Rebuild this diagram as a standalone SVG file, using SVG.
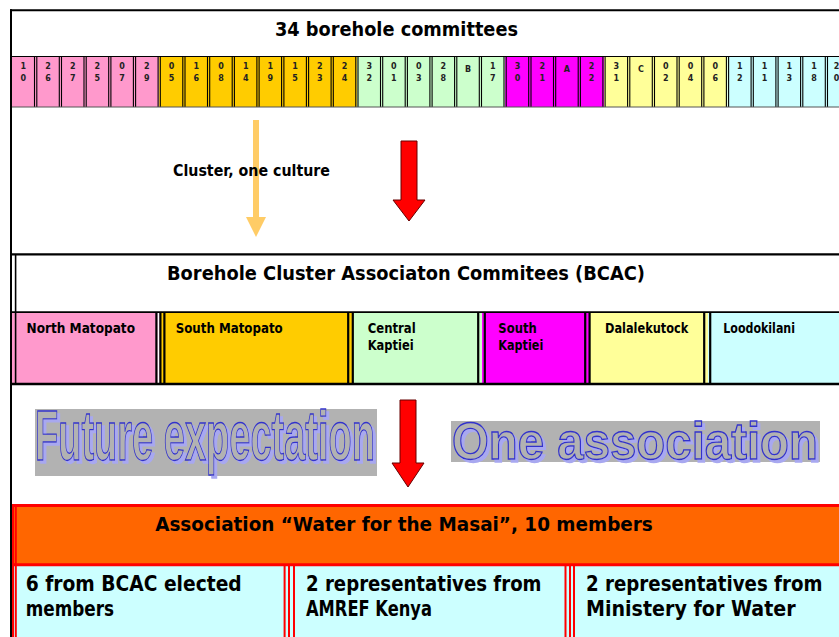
<svg xmlns="http://www.w3.org/2000/svg" width="839" height="637" viewBox="0 0 839 637">
<defs>
<style>
.t{font-family:"DejaVu Sans","Liberation Sans",sans-serif;font-weight:bold;fill:#000}
.d{font-family:"DejaVu Sans","Liberation Sans",sans-serif;font-weight:bold;font-size:8px;fill:#222;text-anchor:middle}
.big{font-family:"Liberation Sans",Arial,sans-serif;font-weight:bold;fill:#B2B2B2;stroke:#3333CC;stroke-width:1.3;filter:url(#shadow)}
.blk{fill:none;stroke:#000}
.red{fill:none;stroke:#F00}
.arr{fill:#F00;stroke:#600;stroke-width:1}
</style>
<filter id="shadow" x="-5%" y="-10%" width="110%" height="130%">
  <feOffset in="SourceAlpha" dx="2.5" dy="3" result="o"/>
  <feFlood flood-color="#A8A8F0"/>
  <feComposite in2="o" operator="in" result="s"/>
  <feMerge><feMergeNode in="s"/><feMergeNode in="SourceGraphic"/></feMerge>
</filter>
</defs>
<rect width="839" height="637" fill="#fff"/>

<g id="top-table">
  <rect x="12" y="57" width="147.2" height="50" fill="#FF99CC"/>
  <rect x="159.2" y="57" width="197.7" height="50" fill="#FFCC00"/>
  <rect x="356.9" y="57" width="148.3" height="50" fill="#CCFFCC"/>
  <rect x="505.1" y="57" width="98.9" height="50" fill="#FF00FF"/>
  <rect x="604" y="57" width="123.5" height="50" fill="#FFFF99"/>
  <rect x="727.5" y="57" width="111.5" height="50" fill="#CCFFFF"/>
  <path class="blk" stroke-width="1.1" d="M34.5 57V107M36.8 57V107M59.3 57V107M61.5 57V107M84 57V107M86.2 57V107M108.7 57V107M110.9 57V107M133.4 57V107M135.6 57V107M158.1 57V107M160.3 57V107M182.8 57V107M185 57V107M207.5 57V107M209.7 57V107M232.2 57V107M234.4 57V107M256.9 57V107M259.1 57V107M281.6 57V107M283.9 57V107M306.4 57V107M308.6 57V107M331.1 57V107M333.3 57V107M355.8 57V107M358 57V107M380.5 57V107M382.7 57V107M405.2 57V107M407.4 57V107M429.9 57V107M432.1 57V107M454.6 57V107M456.8 57V107M479.3 57V107M481.5 57V107M504 57V107M506.2 57V107M528.7 57V107M531 57V107M553.5 57V107M555.7 57V107M578.2 57V107M580.4 57V107M602.9 57V107M605.1 57V107M627.6 57V107M629.8 57V107M652.3 57V107M654.5 57V107M677 57V107M679.2 57V107M701.7 57V107M703.9 57V107M726.4 57V107M728.6 57V107M751.1 57V107M753.3 57V107M775.9 57V107M778.1 57V107M800.6 57V107M802.8 57V107M825.3 57V107M827.5 57V107"/>
  <line x1="10" y1="10.3" x2="839" y2="10.3" stroke="#000" stroke-width="2"/>
  <line x1="12" y1="56.5" x2="839" y2="56.5" stroke="#000" stroke-width="1"/>
  <line x1="12" y1="107" x2="839" y2="107" stroke="#555" stroke-width="1"/>
  <text class="t" x="275" y="36" font-size="20" textLength="243" lengthAdjust="spacingAndGlyphs">34 borehole committees</text>
  <g class="d">
    <text x="23.3" y="69">1<tspan x="23.3" dy="12">0</tspan></text>
    <text x="48" y="69">2<tspan x="48" dy="12">6</tspan></text>
    <text x="72.7" y="69">2<tspan x="72.7" dy="12">7</tspan></text>
    <text x="97.4" y="69">2<tspan x="97.4" dy="12">5</tspan></text>
    <text x="122.1" y="69">0<tspan x="122.1" dy="12">7</tspan></text>
    <text x="146.9" y="69">2<tspan x="146.9" dy="12">9</tspan></text>
    <text x="171.6" y="69">0<tspan x="171.6" dy="12">5</tspan></text>
    <text x="196.3" y="69">1<tspan x="196.3" dy="12">6</tspan></text>
    <text x="221" y="69">0<tspan x="221" dy="12">8</tspan></text>
    <text x="245.7" y="69">1<tspan x="245.7" dy="12">4</tspan></text>
    <text x="270.4" y="69">1<tspan x="270.4" dy="12">9</tspan></text>
    <text x="295.1" y="69">1<tspan x="295.1" dy="12">5</tspan></text>
    <text x="319.8" y="69">2<tspan x="319.8" dy="12">3</tspan></text>
    <text x="344.5" y="69">2<tspan x="344.5" dy="12">4</tspan></text>
    <text x="369.2" y="69">3<tspan x="369.2" dy="12">2</tspan></text>
    <text x="393.9" y="69">0<tspan x="393.9" dy="12">1</tspan></text>
    <text x="418.7" y="69">0<tspan x="418.7" dy="12">3</tspan></text>
    <text x="443.4" y="69">2<tspan x="443.4" dy="12">8</tspan></text>
    <text x="468.1" y="72">B</text>
    <text x="492.8" y="69">1<tspan x="492.8" dy="12">7</tspan></text>
    <text x="517.5" y="69">3<tspan x="517.5" dy="12">0</tspan></text>
    <text x="542.2" y="69">2<tspan x="542.2" dy="12">1</tspan></text>
    <text x="566.9" y="72">A</text>
    <text x="591.6" y="69">2<tspan x="591.6" dy="12">2</tspan></text>
    <text x="616.3" y="69">3<tspan x="616.3" dy="12">1</tspan></text>
    <text x="641" y="72">C</text>
    <text x="665.8" y="69">0<tspan x="665.8" dy="12">2</tspan></text>
    <text x="690.5" y="69">0<tspan x="690.5" dy="12">4</tspan></text>
    <text x="715.2" y="69">0<tspan x="715.2" dy="12">6</tspan></text>
    <text x="739.9" y="69">1<tspan x="739.9" dy="12">2</tspan></text>
    <text x="764.6" y="69">1<tspan x="764.6" dy="12">1</tspan></text>
    <text x="789.3" y="69">1<tspan x="789.3" dy="12">3</tspan></text>
    <text x="814" y="69">1<tspan x="814" dy="12">8</tspan></text>
    <text x="836.5" y="69">2<tspan x="836.5" dy="12">0</tspan></text>
  </g>
</g>

<line x1="11" y1="9.3" x2="11" y2="637" stroke="#000" stroke-width="2"/>

<g id="connectors">
  <path d="M253 120H259V217H266L256 237L246 217H253Z" fill="#FFCC66"/>
  <path class="arr" d="M401 141H417V200H425L409 221L393 200H401Z"/>
  <path class="arr" d="M400 400H416V463H424L408 487L392 463H400Z"/>
</g>

<g id="cluster-label">
  <text class="t" x="173" y="176" font-size="15" textLength="157" lengthAdjust="spacingAndGlyphs">Cluster, one culture</text>
</g>

<g id="bcac">
  <rect x="12" y="313" width="148" height="71" fill="#FF99CC"/>
  <rect x="160" y="313" width="192" height="71" fill="#FFCC00"/>
  <rect x="352" y="313" width="130" height="71" fill="#CCFFCC"/>
  <rect x="482" y="313" width="107" height="71" fill="#FF00FF"/>
  <rect x="589" y="313" width="119" height="71" fill="#FFFF99"/>
  <rect x="708" y="313" width="131" height="71" fill="#CCFFFF"/>
  <rect x="157.5" y="313" width="2" height="71" fill="#fff"/>
  <path class="blk" stroke-width="2.2" d="M156.4 313V384M160.4 313V384M164.4 313V384M348.2 313V384M352.8 313V384M478.2 313V384M484.8 313V384M585.2 313V384M589.6 313V384M704.2 313V384M710.2 313V384"/>
  <line x1="15.6" y1="255" x2="15.6" y2="384" stroke="#000" stroke-width="1.6"/>
  <line x1="10" y1="254.3" x2="839" y2="254.3" stroke="#000" stroke-width="2.2"/>
  <line x1="12" y1="312.2" x2="839" y2="312.2" stroke="#000" stroke-width="1.8"/>
  <line x1="10" y1="384" x2="839" y2="384" stroke="#000" stroke-width="2.6"/>
  <text class="t" x="167" y="280" font-size="20" textLength="478" lengthAdjust="spacingAndGlyphs">Borehole Cluster Associaton Commitees (BCAC)</text>
  <g class="t" font-size="14">
    <text x="26.5" y="332.5" textLength="108.5" lengthAdjust="spacingAndGlyphs">North Matopato</text>
    <text x="175.7" y="332.5" textLength="107" lengthAdjust="spacingAndGlyphs">South Matopato</text>
    <text x="367.7" y="332.5" textLength="48" lengthAdjust="spacingAndGlyphs">Central</text>
    <text x="367.7" y="349.5" textLength="46" lengthAdjust="spacingAndGlyphs">Kaptiei</text>
    <text x="498.3" y="332.5" textLength="38.4" lengthAdjust="spacingAndGlyphs">South</text>
    <text x="498.3" y="349.5" textLength="45" lengthAdjust="spacingAndGlyphs">Kaptiei</text>
    <text x="605" y="332.5" textLength="83.3" lengthAdjust="spacingAndGlyphs">Dalalekutock</text>
    <text x="723.3" y="332.5" textLength="71.7" lengthAdjust="spacingAndGlyphs">Loodokilani</text>
  </g>
</g>

<g id="future-expectation">
  <rect x="35" y="409" width="342" height="67" fill="#B2B2B2"/>
  <text class="big" x="35" y="460" font-size="70" textLength="340" lengthAdjust="spacingAndGlyphs">Future expectation</text>
</g>

<g id="one-association">
  <rect x="451" y="421" width="369" height="41" fill="#B2B2B2"/>
  <text class="big" x="452" y="459" font-size="52" textLength="366" lengthAdjust="spacingAndGlyphs">One association</text>
</g>

<g id="association">
  <rect x="12" y="505" width="827" height="60" fill="#FF6600"/>
  <rect x="12" y="565" width="827" height="72" fill="#CCFFFF"/>
  <line x1="12" y1="505.5" x2="839" y2="505.5" stroke="#F00" stroke-width="3"/>
  <line x1="12" y1="564.8" x2="839" y2="564.8" stroke="#F00" stroke-width="3"/>
  <path class="red" stroke-width="2" d="M13 504V637M15.8 504V637M284.6 566V637M289 566V637M294 566V637M565.5 566V637M570 566V637M574 566V637"/>
  <text class="t" x="155.2" y="531" font-size="19" textLength="497.6" lengthAdjust="spacingAndGlyphs">Association “Water for the Masai”, 10 members</text>
  <g class="t" font-size="21">
    <text x="25.7" y="591" textLength="216" lengthAdjust="spacingAndGlyphs">6 from BCAC elected</text>
    <text x="25.7" y="616" textLength="88.3" lengthAdjust="spacingAndGlyphs">members</text>
    <text x="306" y="591" textLength="235.5" lengthAdjust="spacingAndGlyphs">2 representatives from</text>
    <text x="306" y="616" textLength="126" lengthAdjust="spacingAndGlyphs">AMREF Kenya</text>
    <text x="586" y="591" textLength="236.5" lengthAdjust="spacingAndGlyphs">2 representatives from</text>
    <text x="586" y="616" textLength="209.6" lengthAdjust="spacingAndGlyphs">Ministery for Water</text>
  </g>
</g>
</svg>
